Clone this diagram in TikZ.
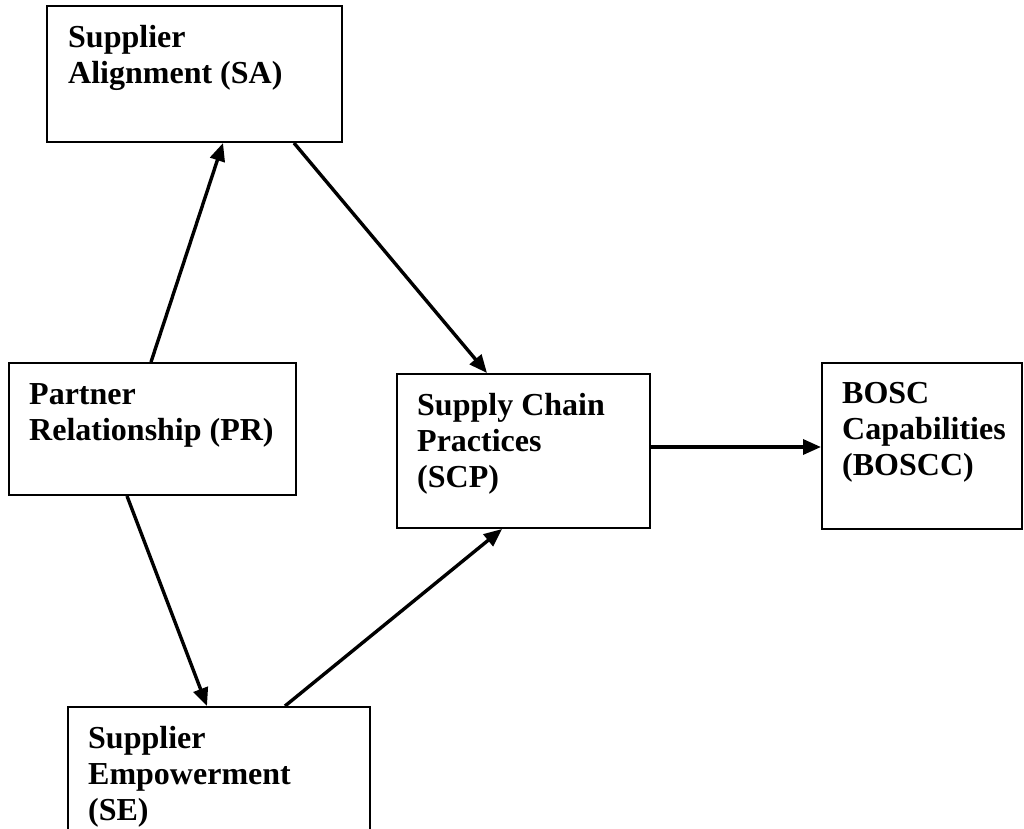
\documentclass[tikz,border=0pt]{standalone}
\usepackage{fontspec}
\setmainfont{Liberation Serif}
\usetikzlibrary{arrows.meta}
\begin{document}
\begin{tikzpicture}[x=1pt,y=-1pt,
  box/.style={draw=black,line width=2pt,fill=none,inner sep=0pt,anchor=north west},
  lbl/.style={anchor=base west,inner sep=0pt,align=left,
    font=\fontsize{32}{36}\selectfont\bfseries},
  arr/.style={line width=3.4pt,-{Triangle[length=18pt,width=15pt]}}]
\useasboundingbox (0,0) rectangle (1024,828);
\clip (0,0) rectangle (1024,828);

% construct boxes
\node[box,minimum width=295pt,minimum height=136pt] (sa) at (46,5) {};
\node[box,minimum width=287pt,minimum height=132pt] (pr) at (8,362) {};
\node[box,minimum width=253pt,minimum height=154pt] (scp) at (396,373) {};
\node[box,minimum width=200pt,minimum height=166pt] (bosc) at (821,362) {};
\node[box,minimum width=302pt,minimum height=150pt] (se) at (67,706) {};

% box captions (placed at the baseline of their last line)
\node[lbl] (satext) at (68,83) {Supplier\\Alignment (SA)};
\node[lbl] (prtext) at (29,440) {Partner\\Relationship (PR)};
\node[lbl] (scptext) at (417,487) {Supply Chain\\Practices\\(SCP)};
\node[lbl] (bosctext) at (842,475) {BOSC\\Capabilities\\(BOSCC)};
\node[lbl] (setext) at (88,820) {Supplier\\Empowerment\\(SE)};

% paths between constructs
\draw[arr] ([xshift=143pt]pr.north west) -- ([xshift=177pt]sa.south west);
\draw[arr] ([xshift=248pt]sa.south west) -- ([xshift=91pt]scp.north west);
\draw[arr] ([xshift=119pt]pr.south west) -- ([xshift=140pt]se.north west);
\draw[arr] ([xshift=218pt]se.north west) -- ([xshift=106pt]scp.south west);
\draw[arr] ([yshift=4pt]scp.east) -- ([yshift=4pt]scp.east -| bosc.west);
\end{tikzpicture}
\end{document}
